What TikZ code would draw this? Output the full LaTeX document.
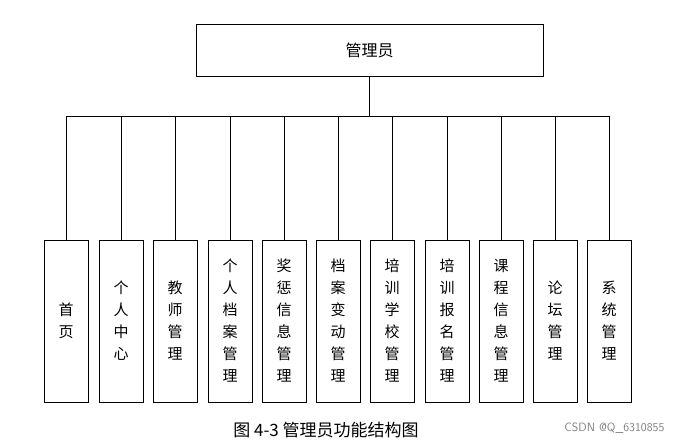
\documentclass[tikz,border=0pt]{standalone}
\usepackage{fontspec}
\newfontfamily\cjk{Noto Sans CJK SC}
\begin{document}
\begin{tikzpicture}[x=1pt,y=-1pt,
  bx/.style={draw,line width=0.9pt,minimum width=44pt,minimum height=162pt,inner sep=0pt,font=\cjk\fontsize{15}{22}\selectfont,align=center},
  ln/.style={line width=0.9pt}]
\useasboundingbox (0,0) rectangle (680,444);
\node[draw,line width=0.9pt,minimum width=347pt,minimum height=52pt,font=\cjk\fontsize{16}{20}\selectfont] (top) at (369.5,50) {管理员};
\coordinate (j) at (369.5,116);
\draw[ln] (top.south) -- (j);
\foreach \i/\x/\t in {1/66/首\\页,2/121/个\\人\\中\\心,3/175/教\\师\\管\\理,4/230/个\\人\\档\\案\\管\\理,5/284/奖\\惩\\信\\息\\管\\理,6/338/档\\案\\变\\动\\管\\理,7/392/培\\训\\学\\校\\管\\理,8/447/培\\训\\报\\名\\管\\理,9/501/课\\程\\信\\息\\管\\理,10/555/论\\坛\\管\\理,11/609/系\\统\\管\\理}{
  \node[bx] (b\i) at (\x,321) {\t};
  \coordinate (c\i) at (\x,116);
  \draw[ln] (c\i) -- (b\i.north);
}
\draw[ln] (c1) -- (c11);
\node[font=\cjk\fontsize{17}{20}\selectfont] (cap) at (326,430) {图 4-3 管理员功能结构图};
\node[font=\sffamily\fontsize{12}{14}\selectfont,text=gray,anchor=east] (wm) at (668,428) {CSDN @Q\_6310855};
\end{tikzpicture}
\end{document}
